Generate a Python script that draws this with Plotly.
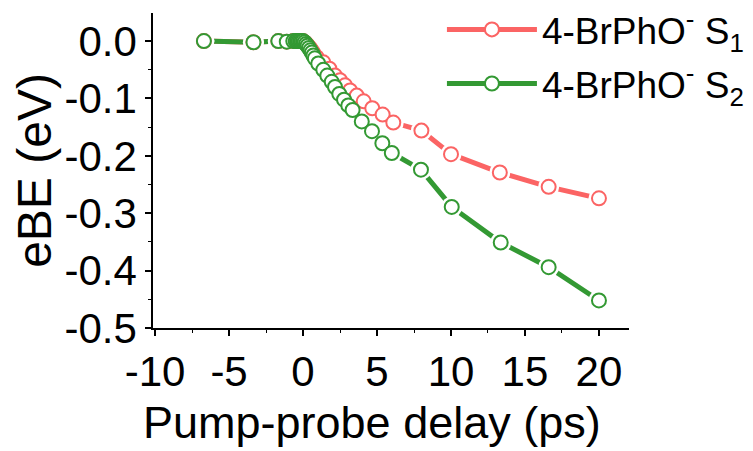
import plotly.graph_objects as go

# data (delay in ps, eBE shift in eV)
s1_delay = [-6.7, -3.35, -1.67, -1.1, -0.66, -0.5, -0.4, -0.3, -0.2, -0.1, 0.0, 0.1, 0.2, 0.3,
            0.4, 0.5, 0.6, 0.7, 0.92, 1.37, 1.78, 2.16, 2.5, 2.84, 3.18, 3.63, 4.1, 4.68, 5.38,
            6.1, 8.0, 10.0, 13.3, 16.6, 20.0]
s1_ebe = [0.0, -0.002, 0.0, -0.001, 0.0, 0.0, 0.0, 0.0, 0.0, 0.0, 0.0, -0.002, -0.004, -0.007,
          -0.010, -0.013, -0.017, -0.021, -0.028, -0.037, -0.048, -0.060, -0.068, -0.077,
          -0.086, -0.095, -0.105, -0.117, -0.128, -0.142, -0.156, -0.197, -0.229, -0.254, -0.274]

s2_delay = [-6.7, -3.35, -1.67, -1.1, -0.66, -0.5, -0.4, -0.3, -0.2, -0.1, 0.0, 0.1, 0.2, 0.3,
            0.4, 0.5, 0.6, 0.7, 0.8, 1.03, 1.37, 1.64, 1.94, 2.16, 2.45, 2.77, 3.06, 3.35, 3.97,
            4.66, 5.36, 6.0, 7.97, 10.05, 13.36, 16.6, 20.0]
s2_ebe = [0.0, -0.002, 0.0, -0.001, 0.0, 0.0, 0.0, 0.0, 0.0, 0.0, 0.0, -0.002, -0.005, -0.008,
          -0.012, -0.016, -0.020, -0.025, -0.030, -0.039, -0.050, -0.060, -0.071, -0.080,
          -0.092, -0.102, -0.112, -0.120, -0.140, -0.157, -0.178, -0.195, -0.224, -0.289,
          -0.351, -0.394, -0.452]

x_ticks = [-10, -5, 0, 5, 10, 15, 20]
x_ticktext = ["-10", "-5", "0", "5", "10", "15", "20"]
y_ticks = [0.0, -0.1, -0.2, -0.3, -0.4, -0.5]
y_ticktext = ["0.0", "-0.1", "-0.2", "-0.3", "-0.4", "-0.5"]

RED = "#fb6464"
GREEN = "#339933"
FONT = "Arial, Liberation Sans, sans-serif"

fig = go.Figure()

series = [
    (s1_delay, s1_ebe, RED, "4-BrPhO<sup>-</sup> S<sub>1</sub>"),
    (s2_delay, s2_ebe, GREEN, "4-BrPhO<sup>-</sup> S<sub>2</sub>"),
]

# lines first
for x, y, c, name in series:
    fig.add_trace(go.Scatter(x=x, y=y, mode="lines", line=dict(color=c, width=5),
                             showlegend=False, hoverinfo="skip"))

# white halo so the line stops short of each symbol
for x, y, c, name in series:
    fig.add_trace(go.Scatter(x=x, y=y, mode="markers",
                             marker=dict(size=21, color="white", line=dict(width=0)),
                             showlegend=False, hoverinfo="skip"))

# open circles
for x, y, c, name in series:
    fig.add_trace(go.Scatter(x=x, y=y, mode="markers", showlegend=False,
                             marker=dict(symbol="circle", size=14, color="white",
                                         line=dict(color=c, width=2))))

# legend entries only
for i, (x, y, c, name) in enumerate(series):
    fig.add_trace(go.Scatter(x=[None], y=[None], mode="lines+markers", name=name,
                             legendgroup="g%d" % i,
                             line=dict(color=c, width=5),
                             marker=dict(symbol="circle", size=14, color="white",
                                         line=dict(color=c, width=2))))

# the page body adds 8px on the left/top, so margins are trimmed by that amount
fig.update_layout(
    width=753, height=451,
    margin=dict(l=145, r=132, t=5, b=131, autoexpand=False),
    plot_bgcolor="white", paper_bgcolor="white",
    font=dict(family=FONT, color="black", size=42),
    legend=dict(x=0.607, y=1.045, xanchor="left", yanchor="top",
                font=dict(size=37), bgcolor="rgba(0,0,0,0)",
                itemwidth=90, tracegroupgap=3, traceorder="grouped"),
    xaxis=dict(range=[-10.14, 22.03], showgrid=False, zeroline=False, automargin=False,
               showline=True, linecolor="black", linewidth=1.5,
               ticks="outside", ticklen=6, tickwidth=1.5, tickcolor="black",
               tickvals=x_ticks, ticktext=x_ticktext,
               minor=dict(dtick=2.5, ticks="outside", ticklen=3, tickwidth=1.2, tickcolor="black")),
    yaxis=dict(range=[-0.5, 0.049], showgrid=False, zeroline=False, automargin=False,
               showline=True, linecolor="black", linewidth=1.5,
               ticks="outside", ticklen=6, tickwidth=1.5, tickcolor="black",
               tickvals=y_ticks, ticktext=y_ticktext,
               minor=dict(dtick=0.05, tick0=0, ticks="outside", ticklen=3, tickwidth=1.2, tickcolor="black"),
               title=dict(text="eBE (eV)", font=dict(size=48), standoff=4)),
    annotations=[dict(text="Pump-probe delay (ps)", xref="paper", yref="paper",
                      x=0.46, y=-0.30, xanchor="center", yanchor="middle",
                      showarrow=False, font=dict(size=45))],
)

fig.write_html("out.html")
